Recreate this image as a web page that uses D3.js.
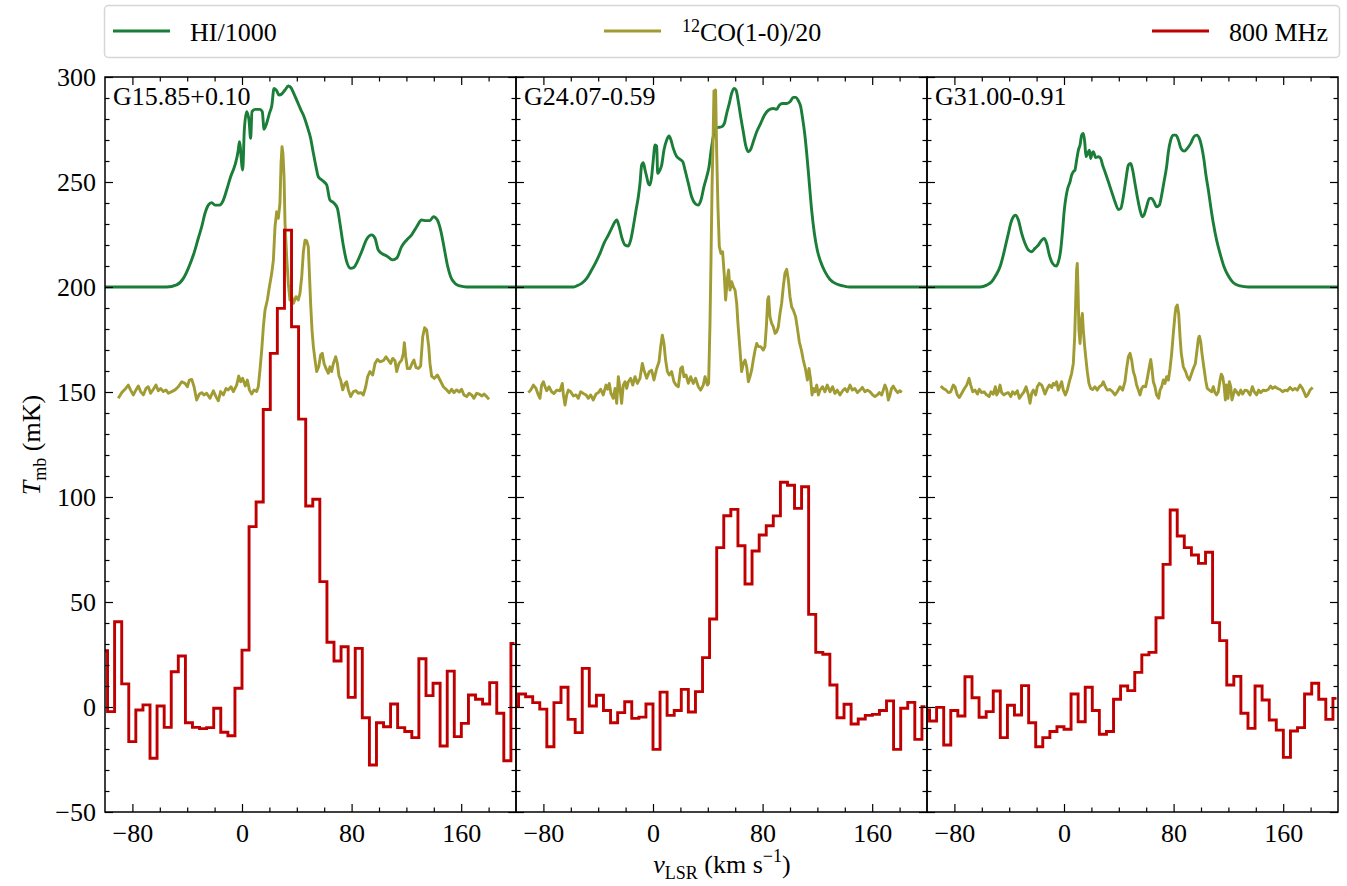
<!DOCTYPE html>
<html><head><meta charset="utf-8">
<script src="https://cdn.jsdelivr.net/npm/d3@7"></script>
<style>
body{margin:0;background:#fff}
svg{display:block}
text{font-family:"Liberation Serif","Times New Roman",serif;fill:#000}
</style>
</head><body>
<svg id="c" width="1347" height="886"></svg>
<script>
// ---------------- data ----------------
const panelNames = ["G15.85+0.10", "G24.07-0.59", "G31.00-0.91"];
const xDomain = [-100, 200];
const yDomain = [-50, 300];
const xTicks = [-80, 0, 80, 160];
const xMinorTicks = [-60, -40, -20, 20, 40, 60, 100, 120, 140, 180];
const yTicks = [-50, 0, 50, 100, 150, 200, 250, 300];
const yMinorTicks = [-40,-30,-20,-10,10,20,30,40,60,70,80,90,110,120,130,140,160,170,180,190,210,220,230,240,260,270,280,290];
const seriesLabels = ["HI/1000", "CO(1-0)/20", "800 MHz"];

// HI/1000 (+200 offset), [v_LSR, T_mb]
const hiG15 = [[-100,200],[-55,200],[-47.7,201],[-42.8,204.1],[-39.2,208.9],[-35.5,215.2],[-31.9,223.2],[-29.4,228.7],[-27,235.1],[-24.6,239],[-22.1,240.2],[-19.7,239],[-16.5,239],[-13.6,241.4],[-11.2,246.2],[-8.3,252.5],[-5.1,258.1],[-2.7,265.2],[-1.9,269.2],[0.5,255.7],[1.7,274.8],[3.4,283.5],[5.1,279.5],[6.3,270.8],[7.3,283.5],[9.5,284.6],[13.1,284.6],[14.8,283.5],[16.1,275.1],[18,278],[20,282.7],[21.7,286.2],[23.4,294.6],[25.3,293.5],[27,291.4],[29,291.9],[31.4,293.8],[33.8,295.7],[35.5,295.1],[38,291.9],[40.4,288.3],[42.8,284.6],[45.3,281.1],[47.7,276.3],[50.1,270.8],[52.1,263.7],[54,257.3],[55.7,252.5],[58.9,250.6],[61.8,248.6],[64.2,241.4],[66.7,240.2],[69.6,237.5],[71.5,230.3],[73.9,220],[76.4,212.1],[79.3,208.9],[81.8,209.4],[84.2,212.1],[87.3,216.8],[91,222.7],[94.6,224.8],[97.1,223.2],[99.5,217.6],[102.7,215.7],[105.6,214.8],[110,212.9],[112.9,213.7],[116.5,219.2],[120.2,222.4],[123.8,224.8],[127.5,228.7],[131.1,231.9],[134.3,231.6],[137.2,231.6],[139.7,233.5],[142.6,231.9],[145,227.1],[147.4,219.2],[149.9,210.5],[152.3,204.9],[155.5,201.7],[159.1,200.5],[164,200],[200,200]];
const hiG24 = [[-100,200],[-58.2,200],[-55.7,200.5],[-52.1,201.7],[-48.4,204.1],[-44.8,208.1],[-41.6,212.0],[-38.7,216.0],[-35.8,220.8],[-32.6,224.7],[-30.2,227.9],[-27.7,231.1],[-26.5,231.9],[-24.8,229.0],[-22.9,223.9],[-20.4,220.0],[-18.0,219.5],[-16.3,222.3],[-14.4,228.7],[-12.4,236.6],[-10.7,243.0],[-9.5,249.3],[-8.3,258.0],[-7.1,259.2],[-5.8,255.7],[-4.6,252.5],[-3.4,249.3],[-2.2,248.6],[-1.0,252.5],[0.2,260.5],[1.5,267.6],[2.7,267.1],[3.4,254.1],[5.1,255.7],[6.3,258.0],[8.0,265.2],[10.0,270.0],[11.7,271.9],[13.1,270.0],[14.8,266.0],[17.3,262.1],[19.7,260.8],[21.7,259.7],[23.4,255.7],[25.8,249.3],[28.2,243.0],[30.7,239.8],[33.1,239.0],[35.0,241.4],[37.2,247.8],[39.2,252.5],[40.9,257.3],[42.3,264.4],[44.0,271.6],[45.5,275.6],[47.7,276.0],[50.1,276.3],[52.1,277.9],[53.8,282.7],[55.7,287.4],[57.4,292.2],[59.1,294.6],[60.6,293.8],[62.3,288.2],[64.0,281.1],[65.9,273.9],[67.6,267.6],[69.6,264.4],[71.3,265.5],[73.2,269.2],[75.7,273.9],[78.6,277.9],[81.3,281.8],[84.2,284.2],[87.8,285.0],[90.3,284.6],[92.2,286.6],[94.6,287.4],[97.6,287.4],[100.0,288.2],[102.4,290.3],[104.4,290.3],[106.1,288.7],[107.8,285.9],[109.2,280.3],[110.7,273.2],[112.2,263.6],[113.9,250.9],[115.8,236.6],[117.8,225.5],[119.9,217.6],[122.4,212.0],[125.5,207.3],[129.2,203.6],[134.1,201.4],[138.9,200.5],[143.8,200],[200,200]];
const hiG31 = [[-100,200],[-61.3,200],[-56.4,200.9],[-52.8,202.5],[-49.6,205.7],[-46.7,209.6],[-44.3,215.2],[-42.3,220.8],[-40.6,225.5],[-38.9,230.3],[-37.0,233.4],[-35.3,234.2],[-33.3,231.9],[-30.9,225.5],[-28.5,220.8],[-26.0,217.6],[-23.6,216.8],[-21.2,218.4],[-18.7,220.0],[-16.3,222.3],[-14.4,223.1],[-12.7,220.8],[-10.7,215.2],[-8.3,211.2],[-5.8,210.0],[-4.1,212.0],[-2.4,217.6],[-1.0,227.1],[0.2,236.6],[1.5,243.0],[2.7,246.9],[4.4,250.1],[5.6,253.3],[6.8,254.9],[8.0,255.7],[9.2,260.4],[10.5,265.2],[11.7,267.6],[12.9,272.3],[14.1,273.1],[15.1,269.2],[16.1,262.0],[17.3,263.6],[18.5,265.2],[19.5,261.2],[20.4,263.6],[21.4,264.4],[23.1,261.7],[25.1,262.0],[26.8,261.2],[28.2,258.0],[29.9,254.9],[32.4,250.1],[34.8,245.3],[37.2,240.6],[39.7,236.9],[41.4,237.4],[43.3,243.0],[45.3,251.7],[47.0,258.0],[48.7,258.8],[50.1,255.7],[51.8,249.3],[53.5,243.0],[55.5,236.6],[57.2,233.4],[58.4,234.2],[60.3,238.2],[62.3,242.2],[64.0,242.2],[65.7,240.6],[67.6,238.2],[69.6,239.0],[71.3,243.8],[73.0,250.1],[74.9,257.3],[76.2,264.4],[77.9,270.0],[79.8,272.3],[81.7,272.3],[83.5,270.0],[85.4,266.0],[87.8,264.7],[90.0,266.0],[92.5,268.4],[94.9,271.6],[96.8,272.3],[98.8,270.8],[100.5,266.8],[102.2,260.4],[103.6,253.3],[105.4,246.1],[107.1,238.2],[109.0,230.3],[111.4,222.3],[113.9,216.0],[116.8,209.6],[120.0,205.2],[123.6,202.0],[128.5,200.5],[134.5,200],[200,200]];

// 12CO(1-0)/20 (+150 offset), [v_LSR, T_mb]
const coG15 = [[-90.3,147.0],[-87.8,149.7],[-85.4,151.3],[-83.0,153.3],[-81.3,150.9],[-79.3,148.6],[-77.4,151.0],[-75.7,152.9],[-74.0,150.2],[-72.0,148.6],[-70.1,151.7],[-68.4,152.5],[-66.7,149.4],[-64.7,151.3],[-62.8,153.3],[-61.1,150.6],[-59.4,151.7],[-57.4,150.2],[-55.5,151.0],[-53.8,149.4],[-51.3,150.2],[-48.9,151.0],[-46.5,152.5],[-44.0,154.9],[-41.6,154.1],[-39.9,152.5],[-38.4,155.7],[-36.7,156.0],[-35.0,152.5],[-33.1,146.2],[-31.1,149.0],[-29.4,149.7],[-27.7,148.6],[-25.8,149.4],[-23.4,147.0],[-20.9,150.6],[-19.0,147.8],[-17.3,145.8],[-15.6,150.2],[-13.6,148.6],[-11.7,151.7],[-10.0,151.0],[-8.0,152.5],[-6.3,150.2],[-3.9,153.3],[-2.4,157.6],[-1.0,154.9],[0.5,156.5],[2.4,152.9],[3.9,155.7],[5.4,151.0],[7.1,149.0],[8.8,151.0],[10.7,150.2],[11.9,152.5],[13.1,160.4],[14.4,170.0],[15.6,181.1],[16.8,189.0],[18.5,193.8],[20.0,200.1],[21.7,206.5],[22.9,212.8],[24.1,228.7],[25.3,235.8],[26.5,232.7],[27.7,239.8],[28.5,258.9],[29.2,266.8],[29.9,263.6],[30.7,252.5],[31.4,230.3],[32.6,214.4],[33.8,201.7],[35.0,193.8],[36.3,195.4],[37.5,192.2],[39.4,195.4],[41.1,193.8],[42.3,197.0],[43.6,204.9],[44.8,216.8],[46.0,222.3],[47.2,222.0],[48.4,219.2],[49.1,208.1],[50.1,192.2],[51.1,179.5],[52.1,171.6],[53.3,165.2],[54.5,159.7],[56.0,162.0],[57.4,167.6],[58.6,168.4],[59.9,163.6],[61.3,161.2],[63.0,158.9],[64.2,162.0],[65.4,159.7],[66.7,163.6],[68.4,166.8],[69.6,163.6],[70.8,157.6],[72.0,155.7],[73.5,151.0],[75.2,154.1],[76.4,154.9],[77.6,151.0],[79.3,147.8],[81.3,150.2],[83.2,150.6],[84.9,149.4],[86.9,149.7],[88.6,148.6],[90.3,152.5],[91.7,157.3],[93.4,159.7],[95.4,158.1],[97.1,163.6],[98.8,165.5],[100.7,164.4],[103.2,164.9],[105.1,166.8],[106.8,165.2],[108.5,163.6],[110.0,166.0],[111.7,164.9],[112.9,159.7],[114.6,163.6],[116.5,165.2],[117.8,168.4],[118.5,173.5],[119.5,166.8],[120.7,161.2],[122.6,161.2],[124.1,163.6],[125.5,165.2],[127.0,161.6],[128.7,161.2],[130.4,162.4],[131.9,176.3],[133.3,180.6],[134.8,179.5],[136.3,171.6],[137.2,163.6],[138.4,157.6],[140.4,156.5],[142.6,158.1],[144.5,155.7],[147.0,152.5],[149.4,151.0],[151.3,149.7],[153.0,151.3],[154.7,149.7],[156.7,151.0],[158.6,150.0],[160.3,151.3],[162.0,148.6],[164.0,147.8],[165.7,149.4],[167.6,148.6],[169.3,147.0],[171.3,149.4],[173.2,149.0],[174.9,148.1],[176.7,149.0],[178.6,147.8],[180.3,146.5]];
const coG24 = [[-91.0,149.7],[-89.3,150.9],[-87.3,153.3],[-85.4,151.7],[-83.7,148.6],[-82.5,147.0],[-81.3,153.3],[-80.0,154.9],[-78.8,152.5],[-77.6,150.6],[-75.9,152.5],[-74.0,150.1],[-72.3,149.3],[-70.3,150.9],[-67.9,150.6],[-66.2,154.1],[-65.4,148.6],[-64.2,143.8],[-63.0,148.6],[-61.8,150.9],[-60.1,150.1],[-58.1,148.1],[-56.2,148.6],[-54.5,147.0],[-52.8,150.1],[-50.8,149.3],[-48.9,148.6],[-47.2,147.0],[-45.5,148.6],[-43.6,146.2],[-41.6,149.0],[-39.9,149.7],[-38.2,151.3],[-36.3,148.6],[-34.3,153.3],[-33.1,151.3],[-31.9,154.1],[-30.7,149.3],[-29.0,147.0],[-27.7,151.7],[-26.5,144.6],[-25.3,157.3],[-24.1,151.7],[-22.9,144.6],[-21.7,153.3],[-20.4,154.9],[-19.2,151.7],[-18.0,154.9],[-16.3,156.5],[-14.8,153.3],[-13.1,157.3],[-11.4,154.1],[-9.5,156.5],[-7.8,163.6],[-6.6,160.4],[-4.6,156.5],[-2.7,159.7],[-1.0,160.4],[0.7,155.7],[2.7,161.2],[4.4,164.4],[5.6,171.6],[6.8,177.1],[8.0,173.1],[9.2,165.2],[10.5,159.7],[11.9,158.1],[13.6,159.7],[15.3,154.9],[16.8,153.3],[18.5,152.5],[20.2,161.2],[21.4,162.0],[22.6,157.3],[24.1,158.1],[25.8,154.1],[27.5,157.3],[29.4,154.1],[31.1,156.5],[33.1,152.5],[34.8,150.9],[36.7,153.3],[38.0,157.3],[39.7,153.3],[40.6,154.1],[41.6,182.7],[42.3,211.2],[43.1,247.7],[43.8,268.4],[44.5,293.4],[45.3,287.4],[45.7,293.8],[46.5,263.6],[47.4,238.2],[48.4,219.2],[49.6,216.0],[50.8,216.8],[52.1,204.9],[53.0,193.8],[54.3,204.1],[55.2,208.1],[56.2,198.5],[57.4,202.5],[58.6,200.1],[59.9,198.5],[61.1,192.2],[62.0,182.7],[63.5,170.0],[64.7,159.7],[65.9,163.6],[67.2,165.2],[68.4,162.0],[69.6,154.9],[70.8,157.3],[72.0,160.4],[73.2,165.2],[74.5,170.0],[75.7,173.1],[76.9,171.6],[78.6,171.6],[80.5,170.0],[81.7,171.6],[82.9,182.7],[83.7,193.8],[84.4,195.4],[85.4,185.8],[86.6,182.7],[87.8,181.1],[89.1,177.9],[90.3,178.7],[91.5,181.1],[92.7,187.4],[93.9,192.2],[95.1,200.1],[96.3,206.5],[97.6,208.4],[98.8,203.3],[100.0,195.4],[101.2,190.6],[102.4,189.0],[104.1,185.8],[105.4,180.3],[106.8,173.9],[108.3,170.0],[109.7,165.2],[111.2,161.2],[112.7,155.7],[113.9,161.2],[115.1,155.7],[116.1,148.6],[117.0,151.7],[118.2,150.1],[119.5,153.3],[120.7,148.6],[121.9,150.9],[123.8,152.5],[125.5,150.1],[127.2,153.3],[129.2,150.1],[131.1,152.5],[132.8,149.3],[134.5,150.9],[136.5,148.6],[138.4,150.6],[140.1,151.7],[141.8,150.1],[143.8,153.3],[145.5,150.9],[147.4,151.7],[149.1,149.7],[151.1,150.9],[152.8,152.2],[154.7,150.1],[156.4,150.9],[158.4,150.1],[160.3,148.6],[162.0,147.8],[163.7,148.6],[165.2,149.7],[166.9,148.6],[168.1,150.9],[169.3,153.3],[170.6,151.2],[171.8,146.2],[173.0,148.6],[174.2,151.7],[175.4,152.8],[177.1,150.9],[178.6,149.7],[180.3,150.6],[181.5,149.7]];
const coG31 = [[-90.0,152.8],[-88.1,151.7],[-86.1,150.9],[-84.4,149.7],[-82.7,150.1],[-80.8,153.3],[-79.6,152.5],[-77.9,148.6],[-76.4,147.4],[-74.7,149.3],[-73.0,151.3],[-71.0,153.3],[-69.3,156.5],[-68.1,153.3],[-66.6,150.1],[-64.9,150.9],[-63.2,149.0],[-61.8,151.3],[-60.1,149.7],[-58.4,150.1],[-56.4,148.6],[-54.7,147.8],[-53.3,150.1],[-51.6,149.0],[-50.1,152.5],[-49.1,148.6],[-47.9,150.1],[-46.7,153.3],[-45.5,149.7],[-43.8,148.6],[-42.3,149.3],[-40.6,149.7],[-38.9,147.8],[-37.5,150.1],[-35.8,149.0],[-34.1,150.6],[-32.6,147.0],[-30.9,148.6],[-29.2,150.1],[-27.7,152.5],[-26.0,148.6],[-24.8,144.6],[-23.6,149.3],[-22.4,150.9],[-20.7,148.6],[-19.5,152.5],[-18.0,154.1],[-16.3,153.3],[-15.1,151.3],[-13.9,149.0],[-12.2,151.7],[-10.7,153.3],[-9.0,152.2],[-7.8,154.1],[-6.6,153.3],[-5.4,154.9],[-4.1,150.9],[-2.9,152.8],[-1.7,154.9],[-0.5,150.9],[1.0,148.6],[2.4,150.9],[3.9,154.9],[5.6,158.9],[6.8,163.6],[7.8,176.3],[8.5,192.2],[9.2,208.1],[9.7,211.2],[10.2,200.1],[10.9,179.5],[11.7,173.1],[12.7,184.3],[13.4,187.4],[14.1,179.5],[15.1,171.6],[16.1,165.2],[17.0,159.7],[18.2,154.1],[19.5,151.7],[20.9,151.2],[22.6,152.5],[24.3,150.9],[25.8,152.5],[27.5,153.3],[28.7,154.9],[30.2,152.5],[31.6,150.9],[33.6,151.2],[35.5,150.1],[37.2,148.6],[38.9,150.1],[40.9,152.5],[42.8,150.9],[44.5,154.9],[45.7,161.2],[47.0,166.8],[48.2,168.4],[49.4,165.2],[50.6,159.7],[51.8,157.3],[53.0,153.3],[54.3,150.9],[55.5,148.6],[56.7,151.7],[57.9,152.8],[59.6,152.5],[60.8,156.5],[62.3,162.0],[63.3,165.5],[64.2,161.2],[65.2,154.9],[66.4,152.5],[67.6,148.6],[69.1,147.0],[70.1,150.9],[71.3,152.5],[72.5,155.7],[73.7,154.1],[74.9,157.3],[76.2,155.7],[77.4,161.2],[78.6,168.4],[79.8,177.9],[81.0,186.6],[81.7,190.3],[82.7,191.4],[83.7,187.4],[84.7,176.3],[85.6,168.4],[87.1,162.0],[88.8,159.7],[90.0,157.3],[91.5,155.7],[93.2,158.9],[94.4,161.2],[95.9,163.6],[96.8,168.4],[98.1,175.5],[98.8,176.6],[99.8,173.9],[100.7,168.4],[102.2,161.2],[103.6,154.9],[104.6,151.7],[106.1,150.9],[107.8,150.1],[109.0,152.5],[110.2,149.7],[111.4,148.6],[112.6,150.1],[113.9,155.7],[114.8,158.5],[115.8,157.3],[116.8,153.3],[117.8,146.2],[118.7,153.3],[119.7,147.0],[120.7,154.9],[121.7,152.5],[122.6,146.2],[123.6,148.6],[124.8,151.2],[126.0,150.1],[127.5,148.6],[129.0,150.9],[130.4,149.0],[132.1,150.9],[133.8,150.6],[135.8,148.6],[137.5,152.5],[138.9,150.1],[140.6,148.6],[142.1,150.9],[143.5,149.7],[145.5,150.9],[147.2,150.6],[149.1,151.2],[150.8,152.8],[152.3,151.7],[154.0,152.5],[155.7,151.7],[157.7,151.2],[159.6,150.1],[161.3,150.9],[163.0,150.6],[165.0,152.2],[166.9,150.9],[168.6,151.7],[170.3,150.9],[172.3,153.3],[174.0,151.7],[175.4,149.7],[176.6,147.8],[177.9,148.6],[179.6,150.9],[181.5,152.2]];

// 800 MHz recombination-line spectra: channel velocities and T_mb (mK)
const radioVel = [-100.7,-95.6,-90.4,-85.2,-80.1,-74.9,-69.7,-64.6,-59.4,-54.2,-49.1,-43.9,-38.7,-33.6,-28.4,-23.2,-18.1,-12.9,-7.7,-2.6,2.6,7.7,12.9,18.1,23.2,28.4,33.6,38.7,43.9,49.1,54.2,59.4,64.6,69.7,74.9,80.1,85.2,90.4,95.6,100.7,105.9,111.0,116.2,121.4,126.5,131.7,136.9,142.0,147.2,152.4,157.5,162.7,167.9,173.0,178.2,183.4,188.5,193.7,198.9];
const radioG15 = [26.8,-2.2,40.6,11,-16.5,-1.4,1,-24.4,0.5,-9.7,16.8,24.3,-7.5,-9.7,-10.3,-9.8,-0.6,-12,-13.7,8.9,27.1,85.9,97.6,141.7,168.4,189.8,227.1,181.1,137.1,95.7,98.9,59.7,30.8,21.9,28.7,4.6,27.9,-5.1,-27.6,-7.5,-9.4,1.4,-9.8,-11.7,-14.6,23,5.4,11.3,-18.6,17.1,-14.1,-7.8,5.7,3.7,1.4,11.6,-3,-25.6,30.3];
const radioG24 = [0.2,6.2,4.9,2.1,-1,-18.9,2.1,9.4,-5.9,-12.2,18.4,0.5,5.6,-1.7,-7.5,-2.7,2.5,-5.4,-4.8,1.4,-20.2,7.1,-4,-1.7,8.4,-2.4,7.3,23.5,41.9,75.9,91.1,94.1,76.8,58.6,74.3,81.9,86.3,91,107,105.6,94.6,104.9,44.1,26,25.1,10.5,-5.1,1.3,-8.1,-5.7,-4,-3.5,-1.7,2.9,-20.2,-0.6,2.2,-15.4,0.2];
const radioG31 = [-1.4,-6.7,-0.2,-18.1,-1.7,-4.3,14.4,4.4,-4.9,-2.2,7.6,-14.6,0.8,-3.8,10.2,-7.5,-18.9,-14.6,-11.7,-9.4,-10.6,6.2,-7,9.4,-1.7,-13,-11.7,3.7,10,7.8,16.5,24.8,26,42.5,67.9,93.8,81.4,75.9,72.4,68.4,73.7,40.2,31.6,10.5,14.6,-3,-10.2,10,3.3,-6.2,-11,-24,-11.4,-9.8,6.2,11.3,3.7,-5.9,4.1];

const hiData = [hiG15, hiG24, hiG31];
const coData = [coG15, coG24, coG31];
const radioData = [radioG15, radioG24, radioG31];

// ---------------- drawing ----------------
const colors = {hi: "#1a7d38", co: "#a09b32", radio: "#c00000"};
const plotTop = 77, plotBottom = 812, panelW = 411;
const panelLefts = [105, 516, 927];
const FS = 26;
const LW = 2.9;

const svg = d3.select("#c");
const y = d3.scaleLinear().domain(yDomain).range([plotBottom, plotTop]);

function styleAxis(g, showLabels) {
  g.select(".domain").remove();
  g.selectAll(".tick line").attr("stroke", "#000").attr("stroke-width", 1.2);
  g.selectAll(".tick text").attr("font-size", FS).attr("font-family", "Liberation Serif, serif").attr("fill", "#000");
  if (!showLabels) g.selectAll(".tick text").remove();
}

panelNames.forEach((name, i) => {
  const left = panelLefts[i];
  const x = d3.scaleLinear().domain(xDomain).range([left, left + panelW]);
  const g = svg.append("g");

  g.append("clipPath").attr("id", "clip" + i).append("rect")
    .attr("x", left).attr("y", plotTop).attr("width", panelW).attr("height", plotBottom - plotTop);

  const plot = g.append("g").attr("clip-path", `url(#clip${i})`);
  const line = d3.line().x(d => x(d[0])).y(d => y(d[1]));

  plot.append("path").datum(hiData[i])
    .attr("d", line.curve(d3.curveMonotoneX))
    .attr("fill", "none").attr("stroke", colors.hi).attr("stroke-width", LW).attr("stroke-linejoin", "round");
  plot.append("path").datum(coData[i])
    .attr("d", d3.line().x(d => x(d[0])).y(d => y(d[1]))(coData[i]))
    .attr("fill", "none").attr("stroke", colors.co).attr("stroke-width", LW).attr("stroke-linejoin", "round");
  const stepLine = d3.line().x((d, j) => x(radioVel[j])).y(d => y(d)).curve(d3.curveStep);
  plot.append("path").datum(radioData[i])
    .attr("d", stepLine)
    .attr("fill", "none").attr("stroke", colors.radio).attr("stroke-width", LW).attr("stroke-linejoin", "miter");

  // axes: bottom
  const bMaj = g.append("g").attr("transform", `translate(0,${plotBottom})`)
    .call(d3.axisBottom(x).tickValues(xTicks).tickSizeInner(-8).tickSizeOuter(0).tickPadding(12).tickFormat(d3.format("d")));
  styleAxis(bMaj, true);
  const bMin = g.append("g").attr("transform", `translate(0,${plotBottom})`)
    .call(d3.axisBottom(x).tickValues(xMinorTicks).tickSizeInner(-4.5).tickSizeOuter(0).tickFormat(""));
  styleAxis(bMin, false);
  // top
  const tMaj = g.append("g").attr("transform", `translate(0,${plotTop})`)
    .call(d3.axisTop(x).tickValues(xTicks).tickSizeInner(-8).tickSizeOuter(0).tickFormat(""));
  styleAxis(tMaj, false);
  const tMin = g.append("g").attr("transform", `translate(0,${plotTop})`)
    .call(d3.axisTop(x).tickValues(xMinorTicks).tickSizeInner(-4.5).tickSizeOuter(0).tickFormat(""));
  styleAxis(tMin, false);
  // left
  const lMaj = g.append("g").attr("transform", `translate(${left},0)`)
    .call(d3.axisLeft(y).tickValues(yTicks).tickSizeInner(-8).tickSizeOuter(0).tickPadding(9).tickFormat(d3.format("d")));
  styleAxis(lMaj, i === 0);
  const lMin = g.append("g").attr("transform", `translate(${left},0)`)
    .call(d3.axisLeft(y).tickValues(yMinorTicks).tickSizeInner(-4.5).tickSizeOuter(0).tickFormat(""));
  styleAxis(lMin, false);
  // right
  const rMaj = g.append("g").attr("transform", `translate(${left + panelW},0)`)
    .call(d3.axisRight(y).tickValues(yTicks).tickSizeInner(-8).tickSizeOuter(0).tickFormat(""));
  styleAxis(rMaj, false);
  const rMin = g.append("g").attr("transform", `translate(${left + panelW},0)`)
    .call(d3.axisRight(y).tickValues(yMinorTicks).tickSizeInner(-4.5).tickSizeOuter(0).tickFormat(""));
  styleAxis(rMin, false);

  // frame
  g.append("rect").attr("x", left).attr("y", plotTop).attr("width", panelW).attr("height", plotBottom - plotTop)
    .attr("fill", "none").attr("stroke", "#000").attr("stroke-width", 1.5);

  // panel label
  g.append("text").attr("x", left + 8).attr("y", 105).attr("font-size", FS).text(name);
});

// axis labels
const xl = svg.append("text").attr("x", 722).attr("y", 873).attr("text-anchor", "middle").attr("font-size", FS);
xl.append("tspan").attr("font-style", "italic").text("v");
xl.append("tspan").attr("font-size", 18).attr("dy", 6).text("LSR");
xl.append("tspan").attr("dy", -6).text(" (km s");
xl.append("tspan").attr("font-size", 18).attr("dy", -11).text("\u22121");
xl.append("tspan").attr("dy", 11).text(")");

const yl = svg.append("text").attr("transform", "translate(40,445) rotate(-90)").attr("text-anchor", "middle").attr("font-size", FS);
yl.append("tspan").attr("font-style", "italic").text("T");
yl.append("tspan").attr("font-size", 18).attr("dy", 6).text("mb");
yl.append("tspan").attr("dy", -6).text(" (mK)");

// legend
const lg = svg.append("g");
lg.append("rect").attr("x", 104.5).attr("y", 5.5).attr("width", 1235).attr("height", 52).attr("rx", 4)
  .attr("fill", "#fff").attr("stroke", "#d6d6d6").attr("stroke-width", 1.5);
const legendItems = [
  {key: "hi", x0: 113, tx: 190},
  {key: "co", x0: 604, tx: 682},
  {key: "radio", x0: 1152, tx: 1229}
];
legendItems.forEach((it, k) => {
  lg.append("line").attr("x1", it.x0).attr("x2", it.x0 + 57).attr("y1", 31).attr("y2", 31)
    .attr("stroke", colors[it.key]).attr("stroke-width", LW);
  const t = lg.append("text").attr("x", it.tx).attr("y", 41).attr("font-size", FS);
  if (it.key === "co") {
    t.append("tspan").attr("font-size", 18).attr("dy", -9).text("12");
    t.append("tspan").attr("dy", 9).text(seriesLabels[k]);
  } else {
    t.text(seriesLabels[k]);
  }
});
</script>
</body></html>
